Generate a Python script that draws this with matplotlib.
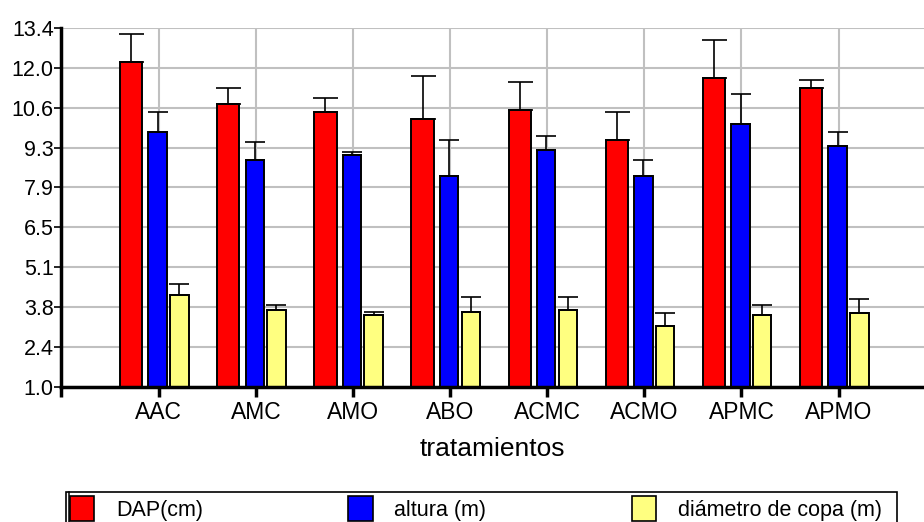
import numpy as np
import matplotlib
matplotlib.use("Agg")
from matplotlib import pyplot as plt
from matplotlib.patches import Patch, Rectangle
from matplotlib.lines import Line2D

plt.rcParams['font.family'] = ['Liberation Sans', 'DejaVu Sans']

tratamientos = ['AAC', 'AMC', 'AMO', 'ABO', 'ACMC', 'ACMO', 'APMC', 'APMO']

dap = [12.23, 10.78, 10.50, 10.24, 10.57, 9.53, 11.68, 11.34]
dap_err = [0.97, 0.56, 0.48, 1.50, 0.97, 0.97, 1.30, 0.26]

altura = [9.81, 8.84, 9.00, 8.29, 9.19, 8.29, 10.08, 9.33]
altura_err = [0.69, 0.62, 0.11, 1.24, 0.49, 0.55, 1.04, 0.47]

copa = [4.16, 3.66, 3.47, 3.59, 3.66, 3.11, 3.47, 3.54]
copa_err = [0.40, 0.16, 0.11, 0.50, 0.43, 0.43, 0.35, 0.48]

series = [
    ('DAP(cm)', dap, dap_err, '#ff0000', -0.283, 0.23, 9),
    ('altura (m)', altura, altura_err, '#0000ff', -0.01, 0.19, 7.5),
    ('diámetro de copa (m)', copa, copa_err, '#ffff80', 0.213, 0.19, 7.5),
]

fig = plt.figure(figsize=(9.24, 5.22), dpi=100)
ax = fig.add_axes([61.5 / 924, 135.3 / 522, 862.5 / 924, 358.7 / 522])

x = np.arange(1, len(tratamientos) + 1)
handles = []
for label, vals, err, color, off, w, cap in series:
    ax.bar(x + off, vals, width=w, color=color, edgecolor='black',
           linewidth=1.4, zorder=3)
    ax.errorbar(x + off, vals, yerr=[np.zeros(len(vals)), err], fmt='none',
                ecolor='black', elinewidth=1.2, capthick=1.2, capsize=cap,
                zorder=4)
    handles.append(Patch(facecolor=color, edgecolor='black', linewidth=1.2,
                         label=label))

yticks = np.linspace(1.0, 13.4, 10)
ax.set_ylim(1.0, 13.4)
ax.set_xlim(0, 8.879)
ax.set_yticks(yticks)
ax.set_yticklabels([f'{v:.1f}' for v in yticks], fontsize=15.5)
ax.set_xticks(x)
ax.set_xticklabels(tratamientos, fontsize=16.5)
ax.set_xticks([0], minor=True)

ax.grid(True, color='#c0c0c0', linewidth=1.5, zorder=0)
ax.set_axisbelow(True)

for side in ('top', 'right'):
    ax.spines[side].set_visible(False)
for side in ('left', 'bottom'):
    ax.spines[side].set_linewidth(2.5)
    ax.spines[side].set_zorder(5)

ax.tick_params(axis='x', which='both', direction='out', length=7,
               width=2.5, pad=3.5)
ax.tick_params(axis='y', direction='out', length=5, width=1.2, pad=0.5)

ax.set_xlabel('tratamientos', fontsize=19, labelpad=9)

# legend box along the bottom edge, with a second rule on its left side
fig.add_artist(Rectangle((65.7 / 924, -0.02), 831 / 924, 30 / 522 + 0.02,
                         transform=fig.transFigure, facecolor='white',
                         edgecolor='black', linewidth=1.2))
fig.add_artist(Line2D([69 / 924, 69 / 924], [0, 30 / 522], color='black',
                      linewidth=1.1, transform=fig.transFigure))

leg = fig.legend(handles=handles, loc='upper left',
                 bbox_to_anchor=(65.7 / 924, 30 / 522, 820 / 924, 0),
                 mode='expand', ncol=3, borderaxespad=0, borderpad=0.18,
                 handlelength=1.15, handleheight=1.45, handletextpad=1.0,
                 fontsize=15.5, frameon=False)

fig.savefig('out.png', dpi=100)
